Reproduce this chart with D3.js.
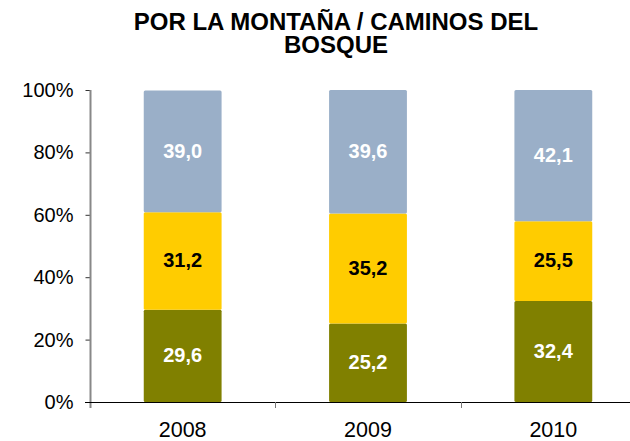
<!DOCTYPE html>
<html><head><meta charset="utf-8">
<script src="https://cdn.jsdelivr.net/npm/d3@7"></script>
<style>body{margin:0;background:#fff}svg{display:block}text{font-family:"Liberation Sans",Arial,sans-serif}</style>
</head><body><svg id="c" width="630" height="441"></svg>
<script>
const years = ["2008", "2009", "2010"];
const seriesNames = ["olive", "yellow", "blue"];
const olive = [29.6, 25.2, 32.4];
const yellow = [31.2, 35.2, 25.5];
const blue = [39.0, 39.6, 42.1];
const yTicks = [0, 20, 40, 60, 80, 100];
const titleLines = ["POR LA MONTAÑA / CAMINOS DEL", "BOSQUE"];
const colors = {olive: "#808000", yellow: "#FFCC00", blue: "#9AAFC8"};
const labelColors = {olive: "#fff", yellow: "#000", blue: "#fff"};

const svg = d3.select("#c");
const x0 = 90, x1 = 646, yTop = 90, yBot = 402;
const x = d3.scaleBand().domain(years).range([x0, x1]).paddingInner(0.58).paddingOuter(0.29);
const y = d3.scaleLinear().domain([0, 100]).range([yBot, yTop]);

const rows = years.map((yr, i) => ({year: yr, olive: olive[i], yellow: yellow[i], blue: blue[i]}));
const stack = d3.stack().keys(seriesNames)(rows);

// title
svg.append("text").attr("text-anchor", "middle")
  .attr("font-weight", "bold").attr("font-size", 24)
  .selectAll("tspan").data(titleLines).join("tspan")
  .attr("x", 336).attr("y", (d, i) => 30 + i * 23).text(d => d);

// bars
const g = svg.append("g");
stack.forEach(s => {
  const k = s.key;
  g.selectAll(null).data(s).join("rect")
    .attr("x", d => x(d.data.year))
    .attr("y", d => y(d[1]))
    .attr("width", x.bandwidth())
    .attr("height", d => y(d[0]) - y(d[1]))
    .attr("fill", colors[k])
    .attr("rx", 1.5);
  g.selectAll(null).data(s).join("text")
    .attr("x", d => x(d.data.year) + x.bandwidth() / 2)
    .attr("y", d => (y(d[0]) + y(d[1])) / 2 - 1)
    .attr("dy", "0.36em")
    .attr("text-anchor", "middle")
    .attr("font-weight", "bold").attr("font-size", 20)
    .attr("fill", labelColors[k])
    .text(d => d3.format(".1f")(d[1] - d[0]).replace(".", ","));
});

// y axis
const yAxis = d3.axisLeft(y).tickValues(yTicks).tickSize(5).tickPadding(12).tickFormat(d => d + "%");
const ya = svg.append("g").attr("transform", `translate(${x0 + 0.5},0)`).call(yAxis);
ya.select(".domain").remove();
ya.selectAll(".tick line").attr("stroke", "#333");
ya.selectAll(".tick text").attr("font-size", 20).attr("fill", "#000").attr("font-family", '"Liberation Sans",Arial,sans-serif');
svg.append("line").attr("x1", x0 + 0.5).attr("x2", x0 + 0.5).attr("y1", yTop).attr("y2", yBot + 6)
  .attr("stroke", "#888").attr("stroke-width", 2);

// x axis
svg.append("line").attr("x1", 85).attr("x2", 630).attr("y1", yBot + 0.5).attr("y2", yBot + 0.5)
  .attr("stroke", "#000").attr("stroke-width", 1.2);
const step = x.step();
const bounds = years.slice(1).map(yr => x(yr) - x.paddingInner() * step / 2);
svg.selectAll(null).data(bounds).join("line")
  .attr("x1", d => Math.round(d) + 0.5).attr("x2", d => Math.round(d) + 0.5)
  .attr("y1", yBot).attr("y2", yBot + 6).attr("stroke", "#777");
svg.selectAll(null).data(years).join("text")
  .attr("x", d => x(d) + x.bandwidth() / 2).attr("y", 437)
  .attr("text-anchor", "middle").attr("font-size", 21.5).attr("fill", "#000")
  .text(d => d);
</script></body></html>
